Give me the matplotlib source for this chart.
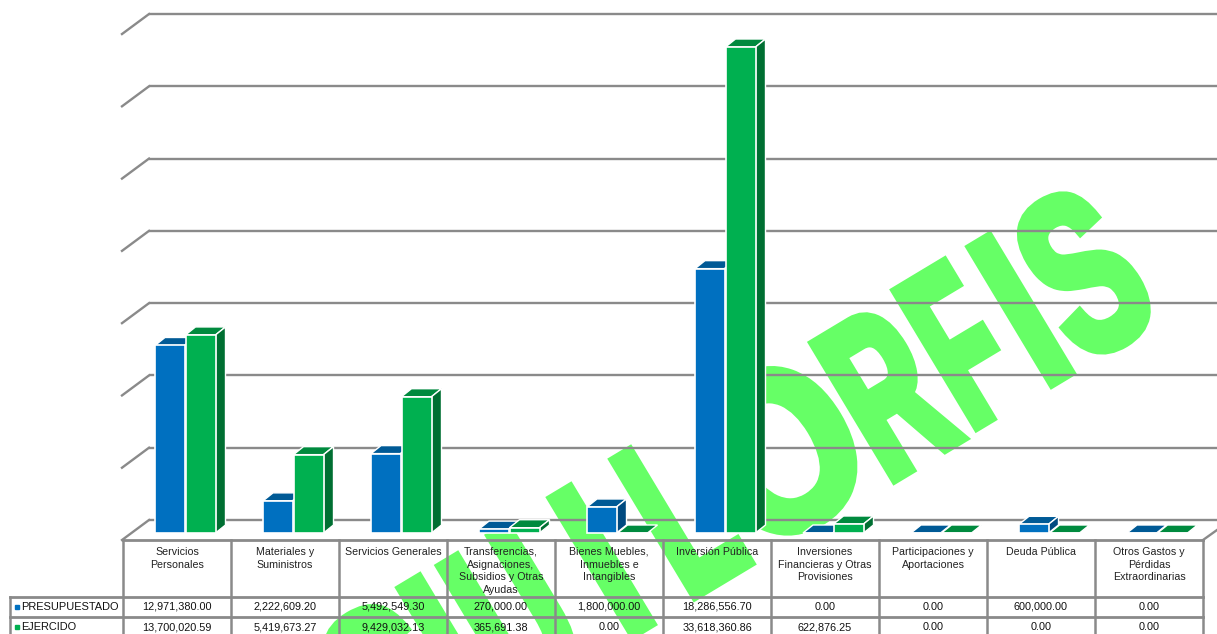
import matplotlib
matplotlib.use("Agg")
import matplotlib.pyplot as plt
import matplotlib.patheffects as pe
from matplotlib.patches import Polygon
from matplotlib.transforms import Affine2D

categories = ["Servicios\nPersonales", "Materiales y\nSuministros", "Servicios Generales",
              "Transferencias,\nAsignaciones,\nSubsidios y Otras\nAyudas",
              "Bienes Muebles,\nInmuebles e\nIntangibles", "Inversión Pública",
              "Inversiones\nFinancieras y Otras\nProvisiones", "Participaciones y\nAportaciones",
              "Deuda Pública", "Otros Gastos y\nPérdidas\nExtraordinarias"]
presupuestado = [12971380.00, 2222609.20, 5492549.30, 270000.00, 1800000.00,
                 18286556.70, 0.00, 0.00, 600000.00, 0.00]
ejercido = [13700020.59, 5419673.27, 9429032.13, 365691.38, 0.00,
            33618360.86, 622876.25, 0.00, 0.00, 0.00]
presup_labels = ["12,971,380.00", "2,222,609.20", "5,492,549.30", "270,000.00", "1,800,000.00",
                 "18,286,556.70", "0.00", "0.00", "600,000.00", "0.00"]
ejer_labels = ["13,700,020.59", "5,419,673.27", "9,429,032.13", "365,691.38", "0.00",
               "33,618,360.86", "622,876.25", "0.00", "0.00", "0.00"]
grid_values = [0, 5e6, 10e6, 15e6, 20e6, 25e6, 30e6, 35e6]

# watermark letters, placed one by one (baseline start in picture pixels, width squeeze)
wm_letters = ["S", "I", "U", "I", "L", "O", "R", "F", "I", "S"]
wm_places = [(388, 780), (474.3, 728.8), (515.3, 705.8), (625.3, 638.8), (688.3, 599.8),
             (756, 557), (888, 483), (971, 430), (1044.3, 387.8), (1083, 365)]
wm_squeeze = [0.66, 0.62, 0.56, 0.62, 0.54, 0.84, 0.54, 0.48, 0.62, 0.62]

WIDTH, HEIGHT = 1217, 634
BASE_PX = 533           # pixel row of value 0 on the front of the bars
PER_PX = 33618360.86 / 486  # value units per pixel
GRID = "#8a8a8a"
FONT = "Liberation Sans"

fig = plt.figure(figsize=(WIDTH / 100, HEIGHT / 100), dpi=100)
ax = fig.add_axes([0, 0, 1, 1])
ax.set_xlim(0, WIDTH)
ax.set_ylim(-(HEIGHT - BASE_PX) * PER_PX, BASE_PX * PER_PX)
ax.axis("off")


def up(px):
    return px * PER_PX


def row(px):
    # pixel row -> y value
    return (BASE_PX - px) * PER_PX


class Squeeze(pe.AbstractPathEffect):
    # narrows the glyphs along the baseline and fattens them, there is no condensed font here
    def __init__(self, sx, grow=7.3):
        super().__init__()
        self.sx = sx
        self.grow = grow

    def draw_path(self, renderer, gc, tpath, affine, rgbFace=None):
        gc0 = renderer.new_gc()
        gc0.copy_properties(gc)
        gc0.set_foreground(rgbFace)
        gc0.set_linewidth(self.grow)
        gc0.set_joinstyle("miter")
        renderer.draw_path(gc0, tpath, Affine2D().scale(self.sx, 1) + affine, rgbFace)
        gc0.restore()


def draw_box(x, w, value, front, top, side, dx=10, dy=8):
    ax.bar(x, value, w, align="edge", color=front, edgecolor="white", linewidth=1.2, zorder=5)
    ax.add_patch(Polygon([(x, value), (x + dx, value + up(dy)), (x + w + dx, value + up(dy)), (x + w, value)],
                         facecolor=top, edgecolor="white", linewidth=1.0, zorder=4))
    if value > 0:
        ax.add_patch(Polygon([(x + w, 0), (x + w + dx, up(dy)), (x + w + dx, value + up(dy)), (x + w, value)],
                             facecolor=side, edgecolor="white", linewidth=1.0, zorder=4))


# watermark, behind everything
for ch, (px, py), sx in zip(wm_letters, wm_places, wm_squeeze):
    ax.text(px, row(py), ch, family=FONT, fontweight="bold", fontsize=165, color="#66FF66",
            rotation=31, rotation_mode="anchor", ha="left", va="baseline", zorder=1,
            clip_on=True, path_effects=[Squeeze(sx)])

# back wall grid and left diagonals
for v in grid_values:
    ax.plot([149, WIDTH], [v + up(13)] * 2, color=GRID, lw=1.7, zorder=2, solid_capstyle="butt")
    ax.plot([122, 149], [v - up(7), v + up(13)], color=GRID, lw=1.7, zorder=2)
ax.plot([1203, WIDTH], [row(540), row(530)], color=GRID, lw=1.7, zorder=2)

col_left = 123
col_w = 108.0
for i, cat in enumerate(categories):
    x0 = col_left + i * col_w
    draw_box(x0 + 32, 29.5, presupuestado[i], "#0070C0", "#005A96", "#004A80")
    draw_box(x0 + 62.5, 30, ejercido[i], "#00B050", "#008A3E", "#006F32")

# table
for i in range(11):
    x = col_left + i * col_w
    ax.plot([x, x], [row(540), row(634)], color=GRID, lw=1.8, zorder=6)
ax.plot([123, 1203], [row(540)] * 2, color=GRID, lw=2, zorder=6)
ax.plot([10, 1203], [row(596.5)] * 2, color=GRID, lw=2, zorder=6)
ax.plot([10, 1203], [row(617)] * 2, color=GRID, lw=2, zorder=6)
ax.plot([10, 10], [row(596.5), row(634)], color=GRID, lw=1.8, zorder=6)

for i, cat in enumerate(categories):
    xc = col_left + (i + 0.5) * col_w
    ax.text(xc, row(547), cat, family=FONT, fontsize=7.7, ha="center", va="top", color="#222222",
            linespacing=1.32, zorder=7)
    ax.text(xc, row(606.5), presup_labels[i], family=FONT, fontsize=7.8, ha="center", va="center",
            color="#111111", zorder=7)
    ax.text(xc, row(627), ejer_labels[i], family=FONT, fontsize=7.8, ha="center", va="center",
            color="#111111", zorder=7)
ax.text(21, row(606.5), "PRESUPUESTADO", family=FONT, fontsize=7.9, va="center", color="#111111", zorder=7)
ax.text(21, row(627), "EJERCIDO", family=FONT, fontsize=7.9, va="center", color="#111111", zorder=7)
ax.plot([17], [row(606.5)], "s", ms=2.2, color="#0070C0", zorder=7)
ax.plot([17], [row(627)], "s", ms=2.2, color="#00B050", zorder=7)

fig.savefig("out.png", dpi=100)
